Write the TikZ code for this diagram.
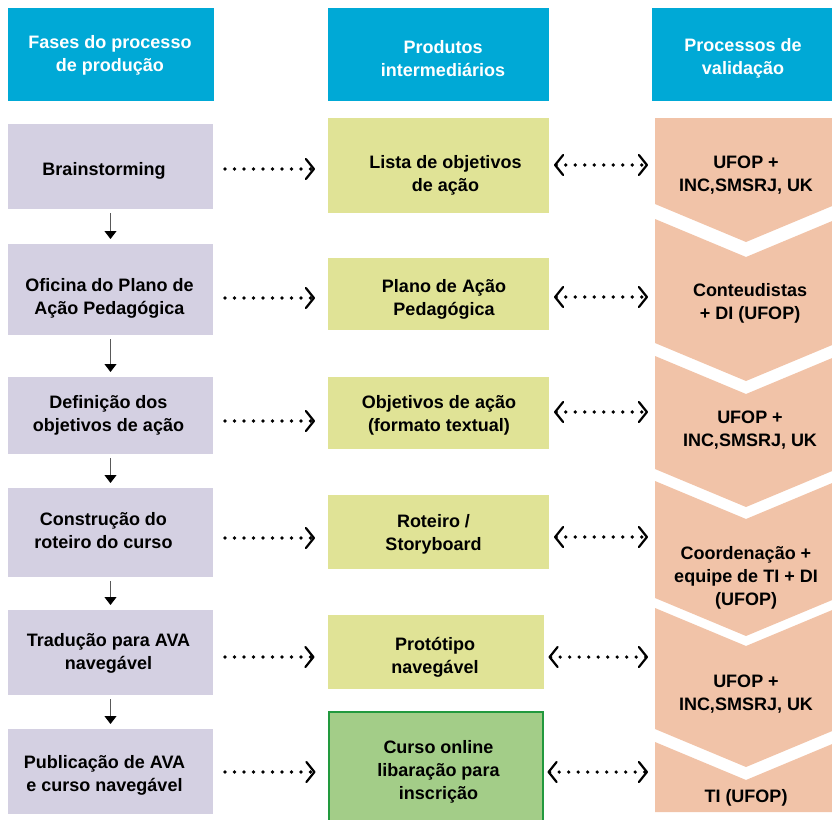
\documentclass[tikz,border=0pt]{standalone}
\usepackage{fontspec}
\setmainfont{Liberation Sans}
\usetikzlibrary{arrows.meta}
\definecolor{hdr}{RGB}{0,169,214}
\definecolor{lav}{RGB}{212,208,226}
\definecolor{ylw}{RGB}{224,227,150}
\definecolor{grn}{RGB}{163,205,136}
\definecolor{grnb}{RGB}{34,153,62}
\definecolor{sal}{RGB}{241,195,168}
\begin{document}
\begin{tikzpicture}[x=1pt,y=-1pt,
  every node/.style={inner sep=0pt,outer sep=0pt},
  txt/.style={font=\fontsize{18}{23}\selectfont\bfseries,align=center,text=black},
  htxt/.style={txt,text=white},
  hbox/.style={fill=hdr,minimum height=93pt},
  lbox/.style={fill=lav,minimum width=205pt},
  mbox/.style={fill=ylw},
  gbox/.style={fill=grn,draw=grnb,line width=2pt},
  vshape/.style={fill=sal},
  downarr/.style={draw=black!65,line width=1pt,shorten <=4pt,shorten >=5pt,
    -{Triangle[length=8pt,width=12pt,color=black,fill=black]}},
  dotarr/.style={line width=3.6pt,line cap=round,dash pattern=on 0pt off 9.5pt,
    -{Straight Barb[length=8pt,width=20pt,line width=2.2pt,round]}},
  dotarrb/.style={line width=3.6pt,line cap=round,dash pattern=on 0pt off 9.5pt,
    {Straight Barb[length=8pt,width=20pt,line width=2.2pt,round]}-{Straight Barb[length=8pt,width=20pt,line width=2.2pt,round]}}
]
\useasboundingbox (0,0) rectangle (832,819);
\clip (0,0) rectangle (832,819);

% headers
\node[hbox,minimum width=206pt] (h1) at (111,54.5) {};
\node[hbox,minimum width=221pt] (h2) at (438.5,54.5) {};
\node[hbox,minimum width=190pt] (h3) at (747,54.5) {};
\node[htxt] (h1t) at (110,55) {Fases do processo\\de produção};
\node[htxt] (h2t) at (443,58.5) {Produtos\\intermediários};
\node[htxt] (h3t) at (743,58.5) {Processos de\\validação};

% left column
\node[lbox,minimum height=85pt] (l1) at (110.5,166.5) {};
\node[lbox,minimum height=91pt] (l2) at (110.5,289.5) {};
\node[lbox,minimum height=77pt] (l3) at (110.5,415.5) {};
\node[lbox,minimum height=89pt] (l4) at (110.5,532.5) {};
\node[lbox,minimum height=85pt] (l5) at (110.5,652.5) {};
\node[lbox,minimum height=85pt] (l6) at (110.5,771.5) {};
\node[txt] (l1t) at (104,171) {Brainstorming};
\node[txt] (l2t) at (109.5,298) {Oficina do Plano de\\Ação Pedagógica};
\node[txt] (l3t) at (108.5,415) {Definição dos\\objetivos de ação};
\node[txt] (l4t) at (103.5,531) {Construção do\\roteiro do curso};
\node[txt] (l5t) at (108.5,653) {Tradução para AVA\\navegável};
\node[txt] (l6t) at (104.5,775) {Publicação de AVA\\e curso navegável};

\draw[downarr] (l1.south) -- (l2.north);
\draw[downarr] (l2.south) -- (l3.north);
\draw[downarr] (l3.south) -- (l4.north);
\draw[downarr] (l4.south) -- (l5.north);
\draw[downarr] (l5.south) -- (l6.north);

% middle column
\node[mbox,minimum width=221pt,minimum height=95pt] (m1) at (438.5,165.5) {};
\node[mbox,minimum width=221pt,minimum height=72pt] (m2) at (438.5,294) {};
\node[mbox,minimum width=221pt,minimum height=72pt] (m3) at (438.5,413) {};
\node[mbox,minimum width=221pt,minimum height=74pt] (m4) at (438.5,532) {};
\node[mbox,minimum width=216pt,minimum height=74pt] (m5) at (435.5,652) {};
\node[gbox,minimum width=214pt,minimum height=110pt] (m6) at (435.5,767) {};
\node[txt] (m1t) at (445.5,175) {Lista de objetivos\\de ação};
\node[txt] (m2t) at (444,299) {Plano de Ação\\Pedagógica};
\node[txt] (m3t) at (439,415) {Objetivos de ação\\(formato textual)};
\node[txt] (m4t) at (433.5,534) {Roteiro /\\Storyboard};
\node[txt] (m5t) at (435,657) {Protótipo\\navegável};
\node[txt] (m6t) at (438.5,772) {Curso online\\libaração para\\inscrição};

% right column chevrons
\fill[vshape] (655,118) -- (837,118) -- (837,204) -- (746,242) -- (655,204) -- cycle;
\fill[vshape] (655,219) -- (746,257) -- (837,219) -- (837,343) -- (746,381) -- (655,343) -- cycle;
\fill[vshape] (655,356) -- (746,394) -- (837,356) -- (837,469) -- (746,507) -- (655,469) -- cycle;
\fill[vshape] (655,481) -- (746,519) -- (837,481) -- (837,598) -- (746,636) -- (655,598) -- cycle;
\fill[vshape] (655,608) -- (746,646) -- (837,608) -- (837,729) -- (746,767) -- (655,729) -- cycle;
\fill[vshape] (655,742) -- (746,780) -- (837,742) -- (837,812) -- (655,812) -- cycle;
\node[txt] (v1t) at (746,175) {UFOP +\\INC,SMSRJ, UK};
\node[txt] (v2t) at (750,303) {Conteudistas\\+ DI (UFOP)};
\node[txt] (v3t) at (750,430) {UFOP +\\INC,SMSRJ, UK};
\node[txt] (v4t) at (746,578) {Coordenação +\\equipe de TI + DI\\(UFOP)};
\node[txt] (v5t) at (746,694) {UFOP +\\INC,SMSRJ, UK};
\node[txt] (v6t) at (746,798) {TI (UFOP)};

% arrow rows
\coordinate (a1) at (0,169);
\coordinate (a2) at (0,298);
\coordinate (a3) at (0,421);
\coordinate (a4) at (0,538);
\coordinate (a5) at (0,657);
\coordinate (a6) at (0,772);
\coordinate (v1) at (655,165);
\coordinate (v2) at (655,297);
\coordinate (v3) at (655,412);
\coordinate (v4) at (655,537);
\coordinate (v5) at (655,657);
\coordinate (v6) at (655,772);

\foreach \i in {1,...,6}{
  \draw[dotarr,shorten <=12pt,shorten >=13pt] (l\i.east |- a\i) -- (m\i.west |- a\i);
  \draw[dotarrb,shorten <=5pt,shorten >=7pt] (m\i.east |- v\i) -- (v\i);
}
\end{tikzpicture}
\end{document}
